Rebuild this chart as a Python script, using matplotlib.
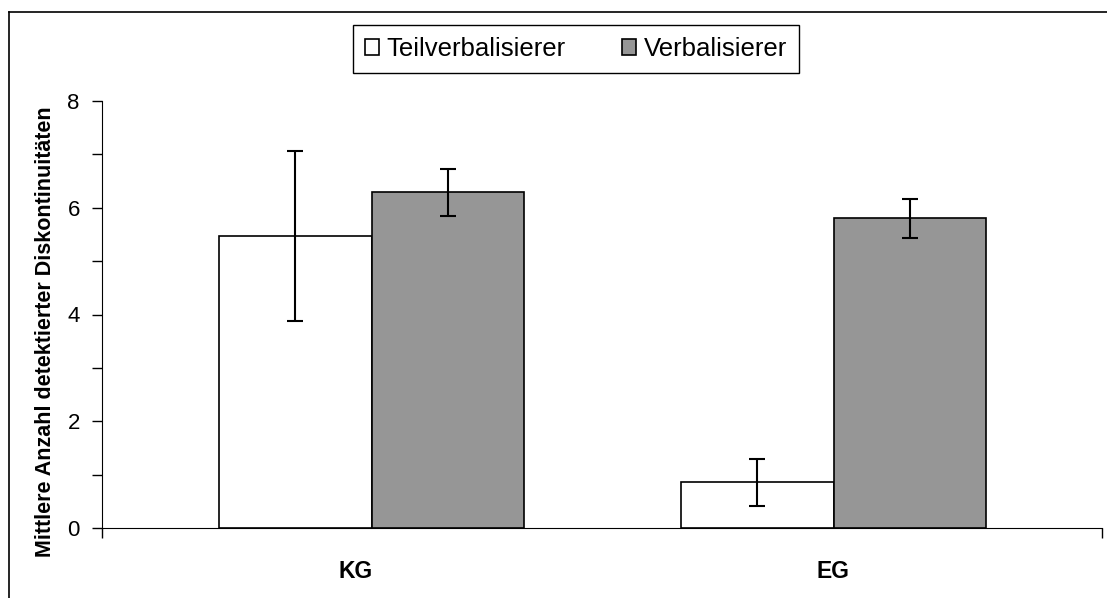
import matplotlib.pyplot as plt
from matplotlib.ticker import MultipleLocator, FixedLocator
from matplotlib.lines import Line2D

plt.rcParams['font.family'] = ['Liberation Sans', 'DejaVu Sans']

# Daten
gruppen = ['KG', 'EG']
teil = [5.47, 0.86]
teil_err = [1.59, 0.44]
verbal = [6.29, 5.80]
verbal_err = [0.44, 0.37]

fig = plt.figure(figsize=(11.07, 5.98), dpi=100)
ax = fig.add_axes([102/1107, 1-528/598, 1000/1107, 427/598])

x = [0, 1]
w = 0.331
err_kw = dict(ecolor='black', elinewidth=1.5, capsize=5.5, capthick=1.5)

ax.bar([i - w/2 for i in x], teil, w, yerr=teil_err, color='white',
       edgecolor='black', linewidth=1.2, label='Teilverbalisierer', error_kw=err_kw)
ax.bar([i + w/2 for i in x], verbal, w, yerr=verbal_err, color='#969696',
       edgecolor='black', linewidth=1.2, label='Verbalisierer', error_kw=err_kw)

xmin = (102 - 371.5) / 462
xmax = (1102 - 371.5) / 462
ax.set_xlim(xmin, xmax)
ax.set_ylim(0, 8)

ax.spines['top'].set_visible(False)
ax.spines['right'].set_visible(False)

ax.yaxis.set_major_locator(MultipleLocator(2))
ax.yaxis.set_minor_locator(MultipleLocator(1))
ax.tick_params(axis='y', which='both', direction='out', length=7, width=1, labelsize=16, pad=9)

# Kategorie-Ticks an den Rändern, Beschriftungen in der Mitte
ax.xaxis.set_major_locator(FixedLocator([xmin, xmax]))
ax.set_xticklabels(['', ''])
ax.tick_params(axis='x', which='major', direction='out', length=7, width=1)
ax.xaxis.set_minor_locator(FixedLocator([(356 - 371.5) / 462, (833 - 371.5) / 462]))
ax.set_xticklabels(gruppen, minor=True, fontsize=16.5, fontweight='bold')
ax.tick_params(axis='x', which='minor', length=0, pad=23)

ax.set_ylabel('Mittlere Anzahl detektierter Diskontinuitäten', fontsize=15.5,
              fontweight='bold')
ax.yaxis.set_label_coords(-0.046, 0.459)

leg = fig.legend(loc='center', bbox_to_anchor=(576/1107, 1-49/598), ncol=2,
                 fancybox=False, edgecolor='black', fontsize=18.5,
                 handlelength=0.55, handleheight=0.55, handletextpad=0.3,
                 columnspacing=2.2, borderpad=0.45, framealpha=1)
leg.get_frame().set_linewidth(1)

# Rahmen des Diagrammbereichs (oben und links)
fig.add_artist(Line2D([9/1107, 1], [1-12/598, 1-12/598], color='black', lw=1.2,
                      transform=fig.transFigure))
fig.add_artist(Line2D([9/1107, 9/1107], [0, 1-12/598], color='black', lw=1.2,
                      transform=fig.transFigure))

fig.savefig('out.png', dpi=100)
